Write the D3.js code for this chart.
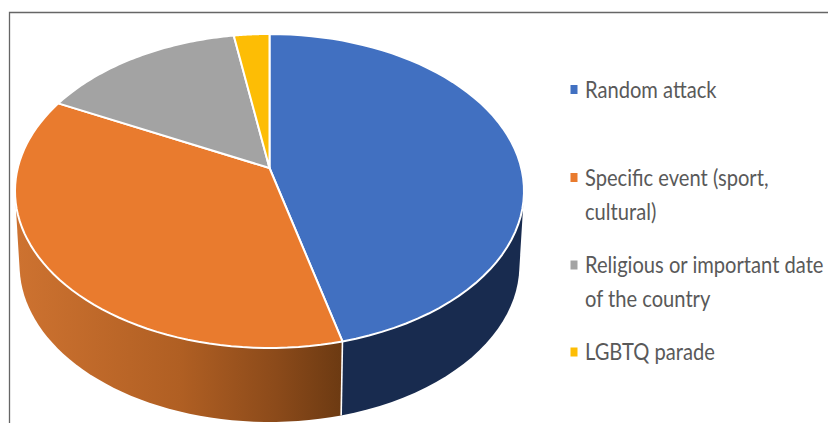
<!DOCTYPE html>
<html>
<head>
<meta charset="utf-8">
<script src="https://cdn.jsdelivr.net/npm/d3@7/dist/d3.min.js"></script>
<style>
html,body{margin:0;padding:0;background:#fff;}
svg{display:block;}
</style>
</head>
<body>
<svg id="chart" width="828" height="423"></svg>
<script>
const categories = ["Random attack", "Specific event (sport, cultural)", "Religious or important date of the country", "LGBTQ parade"];
const shares = [46, 36.4, 15, 2.6];
const topColors = ["#4170c1", "#e97b2e", "#a3a3a3", "#fdbd05"];
const sideColors = ["#182b4f", "url(#orangeSide)", "#5f5f5f", "#97720a"];
const legendLines = [["Random attack"], ["Specific event (sport,", "cultural)"], ["Religious or important date", "of the country"], ["LGBTQ parade"]];

const svg = d3.select("#chart");

// Disc tilted in perspective: v runs front-to-back, nearer points appear larger.
const cx = 269.5, apexY = 168, farY = 34, nearY = 348, halfWidth = 254.5, depth = 74, baseShrink = 0.982;
const c = (2 * apexY - farY - nearY) / (nearY - farY);
const a = apexY - farY * (1 - c);
const d = halfWidth * Math.sqrt(1 - c * c);
function project(angle, radius) {
  const u = radius * Math.sin(angle), v = -radius * Math.cos(angle);
  const w = 1 + c * v;
  return [cx + d * u / w, (a * v + apexY) / w];
}
const lower = p => [cx + (p[0] - cx) * baseShrink, p[1] + depth];
const rim = (start, end) => d3.range(0, 61).map(i => project(start + (end - start) * i / 60, 1));

const slices = d3.pie().sort(null)(shares);

const gradient = svg.append("defs").append("linearGradient")
  .attr("id", "orangeSide").attr("gradientUnits", "userSpaceOnUse")
  .attr("x1", 18).attr("x2", 342).attr("y1", 0).attr("y2", 0);
gradient.selectAll("stop").data([[0, "#cd7230"], [0.5, "#b05f23"], [0.8, "#8b4a1a"], [1, "#6c3a12"]])
  .join("stop").attr("offset", s => s[0]).attr("stop-color", s => s[1]);

// Frame along the top and left of the figure
svg.append("path").attr("d", d3.line()([[9.5, 423], [9.5, 12.5], [828, 12.5]]))
  .attr("fill", "none").attr("stroke", "#666").attr("stroke-width", 1.3);

// Wall of the disc
const line = d3.line();
svg.append("g").selectAll("path").data(slices).join("path")
  .attr("d", s => {
    const arc = rim(s.startAngle, s.endAngle);
    return line(d3.polygonHull(arc.concat(arc.map(lower)))) + "Z";
  })
  .attr("fill", (s, i) => sideColors[i]);

// Seam where the two visible wall sections meet
const seamTop = project(slices[0].endAngle, 1);
svg.append("path").attr("d", line([seamTop, lower(seamTop)]))
  .attr("stroke", "#fff").attr("stroke-width", 1.6).attr("fill", "none");

// Top face
svg.append("g").selectAll("path").data(slices).join("path")
  .attr("d", s => line([project(0, 0)].concat(rim(s.startAngle, s.endAngle))) + "Z")
  .attr("fill", (s, i) => topColors[i])
  .attr("stroke", "#fff").attr("stroke-width", 2).attr("stroke-linejoin", "round");

// Legend
const markerY = [89.5, 177.5, 265, 352];
const lineGap = 34.5;
const legendX = d3.scalePoint().domain(["marker", "text"]).range([570.5, 585]);
const entry = svg.append("g").selectAll("g").data(categories).join("g")
  .attr("transform", (n, i) => `translate(0,${markerY[i]})`);
entry.append("rect")
  .attr("x", legendX("marker")).attr("y", -4.5).attr("width", 7).attr("height", 9)
  .attr("fill", (n, i) => topColors[i]);
const label = entry.append("text")
  .attr("font-family", "Lato, 'Open Sans', sans-serif").attr("font-size", 22.5)
  .attr("fill", "#595959");
label.selectAll("tspan").data((n, i) => legendLines[i]).join("tspan")
  .attr("x", legendX("text")).attr("y", (t, j) => 8 + j * lineGap)
  .text(t => t);
label.attr("transform", `translate(${legendX("text")},0) scale(0.895,1) translate(${-legendX("text")},0)`);
</script>
</body>
</html>
